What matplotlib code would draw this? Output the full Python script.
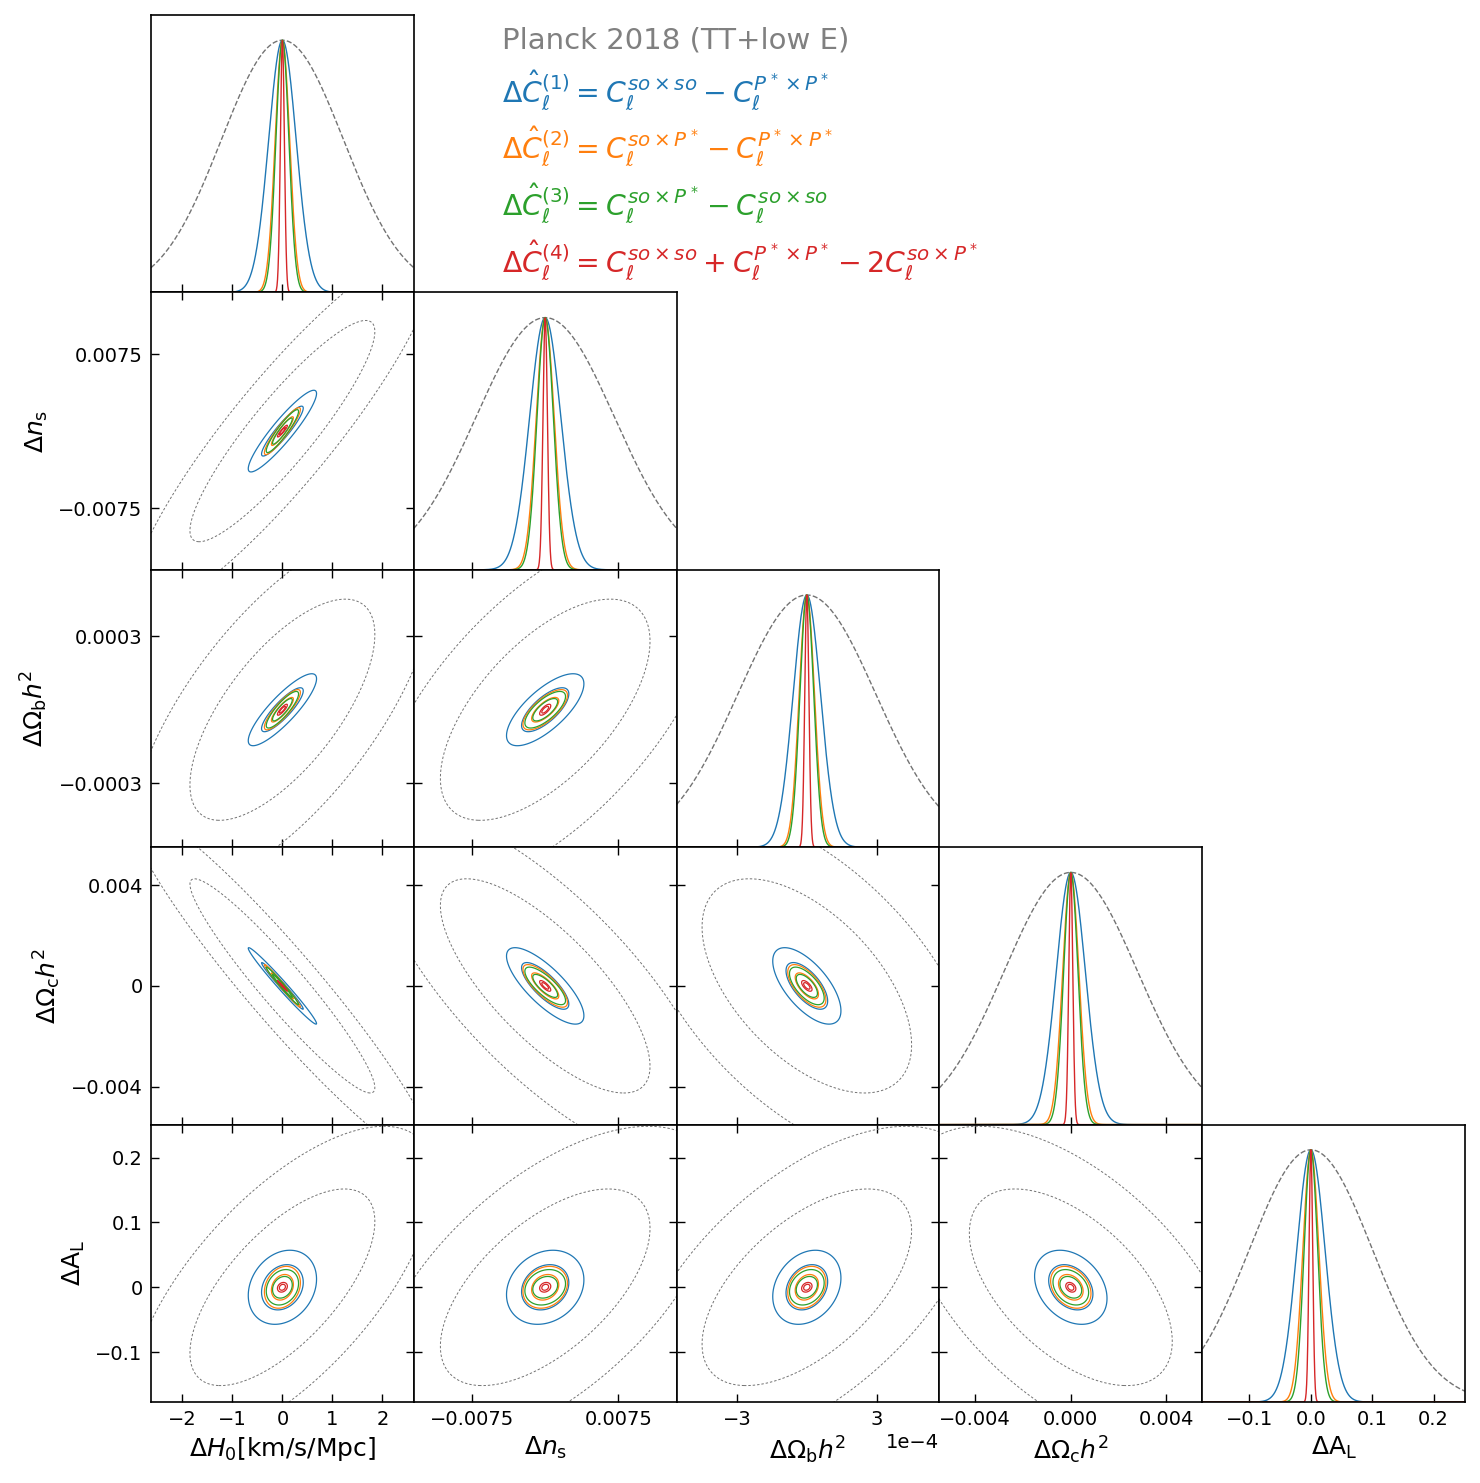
import numpy as np
import matplotlib.pyplot as plt
from matplotlib.ticker import FuncFormatter

# parameters (order of rows / columns)
labels = [r'$\Delta H_0$[km/s/Mpc]', r'$\Delta n_{\rm s}$', r'$\Delta\Omega_{\rm b}h^2$',
          r'$\Delta\Omega_{\rm c}h^2$', r'$\Delta{\rm A_L}$']
lims = [(-2.63, 2.63), (-0.0135, 0.0135), (-5.6e-4, 5.7e-4), (-0.0055, 0.0055), (-0.177, 0.251)]
ticks = [[-2, -1, 0, 1, 2], [-0.0075, 0.0075], [-3e-4, 3e-4], [-0.004, 0, 0.004], [-0.1, 0, 0.1, 0.2]]

# 1-sigma errors
sig_planck = [1.22, 0.0071, 2.97e-4, 0.0028, 0.100]
sig_d1 = [0.275, 0.0016, 5.9e-5, 0.00061, 0.023]
sig_d2 = [0.145, 0.00092, 3.3e-5, 0.00034, 0.013]
sig_d3 = [0.130, 0.00084, 3.0e-5, 0.00030, 0.011]
sig_d4 = [0.040, 0.00023, 0.9e-5, 0.000085, 0.003]

# correlation coefficients (x param, y param)
pairs = [(0, 1), (0, 2), (1, 2), (0, 3), (1, 3), (2, 3), (0, 4), (1, 4), (2, 4), (3, 4)]
rho_planck = [0.90, 0.68, 0.62, -0.95, -0.75, -0.55, 0.67, 0.60, 0.58, -0.55]
rho_so = [0.92, 0.86, 0.72, -0.985, -0.78, -0.65, 0.22, 0.20, 0.25, -0.30]

colors = ['#1f77b4', '#ff7f0e', '#2ca02c', '#d62728']
legend_txt = [r'$\Delta\hat{C}_\ell^{(1)} = C_\ell^{so\times so} - C_\ell^{P^*\times P^*}$',
              r'$\Delta\hat{C}_\ell^{(2)} = C_\ell^{so\times P^*} - C_\ell^{P^*\times P^*}$',
              r'$\Delta\hat{C}_\ell^{(3)} = C_\ell^{so\times P^*} - C_\ell^{so\times so}$',
              r'$\Delta\hat{C}_\ell^{(4)} = C_\ell^{so\times so} + C_\ell^{P^*\times P^*} - 2C_\ell^{so\times P^*}$']

datasets = [(sig_planck, rho_planck, '0.45'),
            (sig_d1, rho_so, colors[0]), (sig_d2, rho_so, colors[1]),
            (sig_d3, rho_so, colors[2]), (sig_d4, rho_so, colors[3])]

ygfmt = FuncFormatter(lambda v, p: ('%g' % v).replace('-', '\u2212'))

fig = plt.figure(figsize=(14.8, 14.83), dpi=100)
gs = fig.add_gridspec(5, 5, left=151/1480, right=1465/1480, top=1-15/1483,
                      bottom=1-1402/1483, hspace=0, wspace=0)
n = len(labels)
for i in range(n):
    for j in range(i + 1):
        ax = fig.add_subplot(gs[i, j])
        for s in ax.spines.values():
            s.set_linewidth(1.2)
        ax.set_xlim(lims[j])
        ax.set_xticks(ticks[j])
        if i == j:
            x = np.linspace(lims[j][0], lims[j][1], 1000)
            for k, (sig, rho, c) in enumerate(datasets):
                y = np.exp(-0.5 * (x / sig[j])**2)
                if k == 0:
                    ax.plot(x, y, ls='--', color=c, lw=1.0)
                else:
                    ax.plot(x, y, color=c, lw=1.0)
            ax.set_ylim(0, 1.1)
            ax.set_yticks([])
            ax.tick_params(axis='x', direction='in', length=6, width=1, top=False, pad=6,
                           labelsize=14)
        else:
            idx = pairs.index((j, i))
            for k, (sig, rho, c) in enumerate(datasets):
                sx, sy, rr = sig[j], sig[i], rho[idx]
                gx = np.linspace(-3.2 * sx, 3.2 * sx, 400)
                gy = np.linspace(-3.2 * sy, 3.2 * sy, 400)
                X, Y = np.meshgrid(gx, gy)
                u, v = X / sx, Y / sy
                chi2 = (u**2 - 2 * rr * u * v + v**2) / (1 - rr**2)
                if k == 0:
                    ax.contour(X, Y, chi2, levels=[2.30, 6.17], colors=c, linewidths=0.7,
                               linestyles=[(0, (2.5, 2.0))])
                else:
                    ax.contour(X, Y, chi2, levels=[2.30, 6.17], colors=c, linewidths=0.9)
            ax.set_ylim(lims[i])
            ax.set_yticks(ticks[i])
            ax.tick_params(direction='in', length=6, width=1, top=True, right=True, pad=6,
                           labelsize=14)
            if j == 0:
                ax.yaxis.set_major_formatter(ygfmt)
                ax.set_ylabel(labels[i], fontsize=18, labelpad=6)
            else:
                ax.tick_params(labelleft=False)
        if i == n - 1:
            ax.set_xlabel(labels[j], fontsize=18)
            if j == 2:
                ax.ticklabel_format(axis='x', style='sci', scilimits=(0, 0))
                ax.xaxis.get_offset_text().set_fontsize(14)
        else:
            ax.tick_params(labelbottom=False)

fig.text(502/1480, 1-48/1483, 'Planck 2018 (TT+low E)', color='gray', fontsize=21,
         va='baseline')
for k, t in enumerate(legend_txt):
    fig.text(502/1480, 1-(102 + 56.5 * k)/1483, t, color=colors[k], fontsize=20.4,
             va='baseline')

fig.savefig('out.png', dpi=100)
